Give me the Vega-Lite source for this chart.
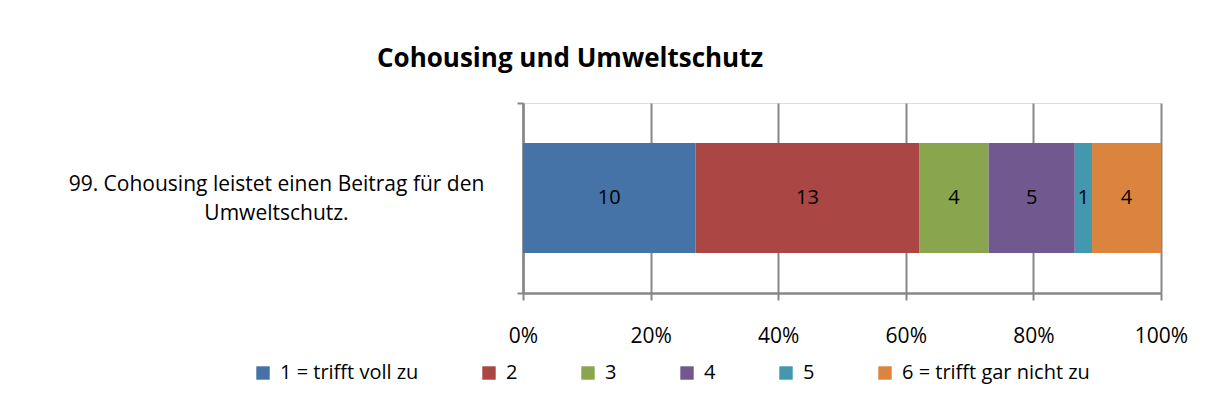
{
  "$schema": "https://vega.github.io/schema/vega-lite/v6.json",
  "width": 638,
  "height": 190,
  "autosize": {"type": "none"},
  "padding": {"left": 523, "top": 103, "right": 55, "bottom": 115},
  "background": "white",
  "title": {
    "text": "Cohousing und Umweltschutz",
    "font": "Open Sans",
    "fontSize": 26,
    "fontWeight": "bold",
    "color": "black",
    "anchor": "start",
    "frame": "group",
    "dx": -146,
    "offset": 20
  },
  "data": {
    "values": [
      {"item": "99. Cohousing leistet einen Beitrag für den Umweltschutz.", "rating": "1 = trifft voll zu", "ord": 1, "value": 10},
      {"item": "99. Cohousing leistet einen Beitrag für den Umweltschutz.", "rating": "2", "ord": 2, "value": 13},
      {"item": "99. Cohousing leistet einen Beitrag für den Umweltschutz.", "rating": "3", "ord": 3, "value": 4},
      {"item": "99. Cohousing leistet einen Beitrag für den Umweltschutz.", "rating": "4", "ord": 4, "value": 5},
      {"item": "99. Cohousing leistet einen Beitrag für den Umweltschutz.", "rating": "5", "ord": 5, "value": 1},
      {"item": "99. Cohousing leistet einen Beitrag für den Umweltschutz.", "rating": "6 = trifft gar nicht zu", "ord": 6, "value": 4}
    ]
  },
  "encoding": {
    "y": {
      "field": "item",
      "type": "nominal",
      "scale": {"paddingInner": 0, "paddingOuter": 0},
      "axis": {
        "title": null,
        "labelExpr": "datum.index == 0 ? ['99. Cohousing leistet einen Beitrag für den', 'Umweltschutz.'] : ''",
        "labelFont": "Open Sans",
        "labelFontSize": 21,
        "labelColor": "black",
        "labelAlign": "center",
        "labelPadding": 241,
        "labelOffset": -14,
        "labelLineHeight": 29,
        "labelLimit": 600,
        "tickBand": "extent",
        "tickSize": 6,
        "tickColor": "#878787",
        "tickWidth": 2,
        "domainColor": "#878787",
        "domainWidth": 2.5,
        "grid": false
      }
    },
    "x": {
      "field": "value",
      "type": "quantitative",
      "stack": "normalize",
      "scale": {"domain": [0, 1], "nice": false},
      "axis": {
        "title": null,
        "format": "%",
        "values": [0, 0.2, 0.4, 0.6, 0.8, 1],
        "labelOverlap": false,
        "labelBound": false,
        "labelFlush": false,
        "labelFont": "Open Sans",
        "labelFontSize": 21,
        "labelColor": "black",
        "labelPadding": 25,
        "tickSize": 7,
        "tickColor": "#878787",
        "tickWidth": 2,
        "domainColor": "#878787",
        "domainWidth": 2.5,
        "grid": true,
        "gridColor": "#878787",
        "gridWidth": 2
      }
    },
    "order": {"field": "ord", "type": "quantitative"}
  },
  "layer": [
    {
      "mark": {"type": "bar", "height": {"band": 0.58}},
      "encoding": {
        "color": {
          "field": "rating",
          "type": "nominal",
          "sort": ["1 = trifft voll zu", "2", "3", "4", "5", "6 = trifft gar nicht zu"],
          "scale": {
            "domain": ["1 = trifft voll zu", "2", "3", "4", "5", "6 = trifft gar nicht zu"],
            "range": ["#4572A7", "#AA4643", "#89A54E", "#71588F", "#4198AF", "#DB843D"]
          },
          "legend": {
            "title": null,
            "orient": "none",
            "direction": "horizontal",
            "legendX": -270,
            "legendY": 260,
            "columns": 6,
            "columnPadding": 60,
            "symbolType": "square",
            "symbolSize": 180,
            "symbolStrokeWidth": 0,
            "labelFont": "Open Sans",
            "labelFontSize": 20,
            "labelColor": "black",
            "labelOffset": 7,
            "labelLimit": 300
          }
        }
      }
    },
    {
      "mark": {"type": "text", "font": "Open Sans", "fontSize": 20, "color": "black"},
      "encoding": {
        "x": {"field": "value", "type": "quantitative", "stack": "normalize", "bandPosition": 0.5},
        "text": {"field": "value", "type": "quantitative"}
      }
    }
  ]
}
